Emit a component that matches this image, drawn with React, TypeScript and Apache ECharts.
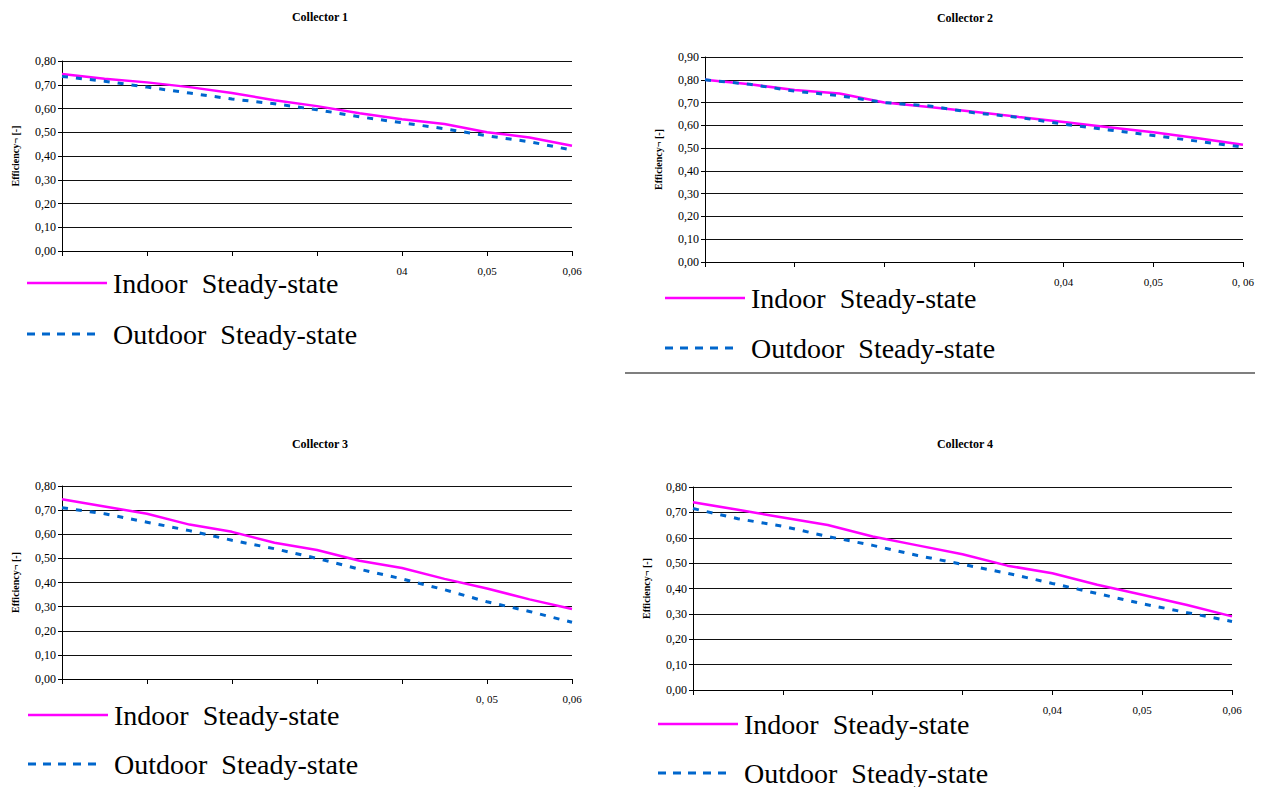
import React, { useEffect, useRef } from "react";
import * as echarts from "echarts";

const xValues = [0, 0.005, 0.01, 0.015, 0.02, 0.025, 0.03, 0.035, 0.04, 0.045, 0.05, 0.055, 0.06];

const c1Indoor = [0.745, 0.725, 0.71, 0.69, 0.665, 0.635, 0.61, 0.58, 0.555, 0.535, 0.5, 0.478, 0.443];
const c1Outdoor = [0.735, 0.715, 0.69, 0.665, 0.64, 0.62, 0.595, 0.565, 0.54, 0.515, 0.485, 0.46, 0.425];

const c2Indoor = [0.8, 0.78, 0.755, 0.74, 0.7, 0.68, 0.66, 0.637, 0.615, 0.592, 0.57, 0.543, 0.515];
const c2Outdoor = [0.8, 0.78, 0.75, 0.73, 0.7, 0.685, 0.655, 0.635, 0.605, 0.58, 0.555, 0.53, 0.505];

const c3Indoor = [0.745, 0.715, 0.685, 0.64, 0.61, 0.565, 0.535, 0.49, 0.46, 0.415, 0.375, 0.33, 0.29];
const c3Outdoor = [0.71, 0.685, 0.65, 0.615, 0.575, 0.54, 0.5, 0.455, 0.415, 0.37, 0.32, 0.28, 0.235];

const c4Indoor = [0.74, 0.71, 0.68, 0.65, 0.605, 0.57, 0.535, 0.49, 0.46, 0.415, 0.375, 0.335, 0.29];
const c4Outdoor = [0.715, 0.675, 0.645, 0.605, 0.57, 0.53, 0.495, 0.46, 0.42, 0.38, 0.34, 0.305, 0.27];

const titles = ["Collector 1", "Collector 2", "Collector 3", "Collector 4"];
const yMaxes = [0.8, 0.9, 0.8, 0.8];
// visible x tick labels per panel (others hidden by the legend in the original)
const xTickLabels: Record<string, string>[] = [
  { "0.04": "04", "0.05": "0,05", "0.06": "0,06" },
  { "0.04": "0,04", "0.05": "0,05", "0.06": "0, 06" },
  { "0.05": "0, 05", "0.06": "0,06" },
  { "0.04": "0,04", "0.05": "0,05", "0.06": "0,06" },
];
const indoorName = "Indoor  Steady-state";
const outdoorName = "Outdoor  Steady-state";
const yName = "Efficiency\u00AC [-]";

const SERIF = "Liberation Serif";

const grids = [
  { left: 62, top: 61, width: 510, height: 190 },
  { left: 705, top: 57, width: 538, height: 205 },
  { left: 62, top: 486, width: 510, height: 193 },
  { left: 693, top: 487, width: 539, height: 203 },
];
const titlePos = [
  { x: 320, y: 17 },
  { x: 965, y: 18 },
  { x: 320, y: 444 },
  { x: 965, y: 444 },
];
const legendPos = [
  { x: 27, y1: 283, y2: 334, lineLen: 80 },
  { x: 665, y1: 298, y2: 348, lineLen: 80 },
  { x: 28, y1: 715, y2: 764, lineLen: 80 },
  { x: 658, y1: 724, y2: 773, lineLen: 80 },
];

export default function App() {
  const ref = useRef<HTMLDivElement>(null);
  useEffect(() => {
    if (!ref.current) return;
    const chart = echarts.init(ref.current, undefined, { renderer: "svg" });
    const data = [
      [c1Indoor, c1Outdoor],
      [c2Indoor, c2Outdoor],
      [c3Indoor, c3Outdoor],
      [c4Indoor, c4Outdoor],
    ];
    const fmt = (v: number) => v.toFixed(2).replace(".", ",");
    const graphic: any[] = [];
    titles.forEach((t, i) => {
      const T = titlePos[i];
      graphic.push({
        type: "text",
        x: T.x,
        y: T.y,
        style: {
          text: t,
          fontFamily: SERIF,
          fontSize: 12,
          fontWeight: "bold",
          fill: "#000",
          align: "center",
          verticalAlign: "middle",
        },
      });
      const L = legendPos[i];
      graphic.push({
        type: "line",
        shape: { x1: L.x, y1: L.y1, x2: L.x + L.lineLen, y2: L.y1 },
        style: { stroke: "#ff00ff", lineWidth: 2.5 },
      });
      graphic.push({
        type: "text",
        x: L.x + L.lineLen + 6,
        y: L.y1,
        style: { text: indoorName, fontFamily: SERIF, fontSize: 28, fill: "#000", verticalAlign: "middle" },
      });
      graphic.push({
        type: "line",
        shape: { x1: L.x, y1: L.y2, x2: L.x + L.lineLen - 8, y2: L.y2 },
        style: { stroke: "#0066cc", lineWidth: 3, lineDash: [8, 7] },
      });
      graphic.push({
        type: "text",
        x: L.x + L.lineLen + 6,
        y: L.y2,
        style: { text: outdoorName, fontFamily: SERIF, fontSize: 28, fill: "#000", verticalAlign: "middle" },
      });
    });
    graphic.push({
      type: "line",
      shape: { x1: 625, y1: 373, x2: 1255, y2: 373 },
      style: { stroke: "#000", lineWidth: 1.2 },
    });

    const option: any = {
      animation: false,
      backgroundColor: "#fff",
      textStyle: { fontFamily: SERIF },
      grid: grids.map((g) => ({ ...g, containLabel: false })),
      xAxis: grids.map((_, i) => ({
        type: "value",
        gridIndex: i,
        min: 0,
        max: 0.06,
        interval: 0.01,
        axisLine: { show: true, lineStyle: { color: "#000", width: 1 } },
        axisTick: { show: true, length: 5, lineStyle: { color: "#000" } },
        splitLine: { show: false },
        axisLabel: {
          margin: 14,
          fontFamily: SERIF,
          fontSize: 11,
          color: "#000",
          formatter: (v: number) => xTickLabels[i][v.toFixed(2)] ?? "",
        },
      })),
      yAxis: grids.map((_, i) => ({
        type: "value",
        gridIndex: i,
        min: 0,
        max: yMaxes[i],
        interval: 0.1,
        name: yName,
        nameLocation: "middle",
        nameGap: 42,
        nameTextStyle: { fontFamily: SERIF, fontSize: 10, fontWeight: "bold", color: "#000" },
        axisLine: { show: true, lineStyle: { color: "#000", width: 1 } },
        axisTick: { show: true, length: 4, lineStyle: { color: "#000" } },
        splitLine: { show: true, lineStyle: { color: "#111", width: 1.2 } },
        axisLabel: { fontFamily: SERIF, fontSize: 12, color: "#000", margin: 6, formatter: fmt },
      })),
      series: data.flatMap((pair, i) => [
        {
          type: "line",
          name: indoorName,
          xAxisIndex: i,
          yAxisIndex: i,
          data: xValues.map((x, k) => [x, pair[0][k]]),
          showSymbol: false,
          lineStyle: { color: "#ff00ff", width: 2.5 },
        },
        {
          type: "line",
          name: outdoorName,
          xAxisIndex: i,
          yAxisIndex: i,
          data: xValues.map((x, k) => [x, pair[1][k]]),
          showSymbol: false,
          lineStyle: { color: "#0066cc", width: 3, type: [6, 8] },
        },
      ]),
      graphic,
    };
    chart.setOption(option);
    return () => chart.dispose();
  }, []);
  return <div ref={ref} style={{ position: "fixed", left: 0, top: 0, width: 1269, height: 787 }} />;
}
